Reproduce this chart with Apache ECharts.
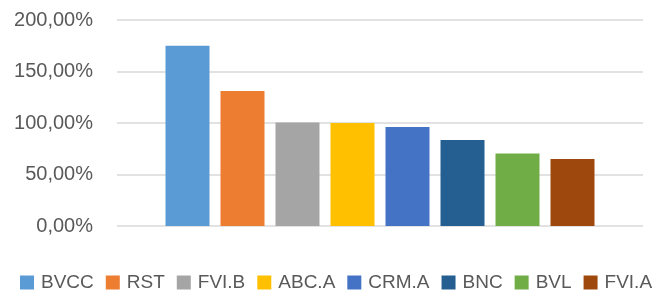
<!DOCTYPE html>
<html>
<head>
<meta charset="utf-8">
<script src="https://cdn.jsdelivr.net/npm/echarts@6/dist/echarts.min.js"></script>
<style>
  html, body { margin: 0; padding: 0; background: #fff; }
  #chart { width: 654px; height: 290px; }
</style>
</head>
<body>
<div id="chart"></div>
<script>
// 各股票名稱與數值 (%)
const tickers = ["BVCC", "RST", "FVI.B", "ABC.A", "CRM.A", "BNC", "BVL", "FVI.A"];
const values = [175, 131, 100.5, 100, 96, 83.5, 70.5, 65];
const yTicks = [0, 50, 100, 150, 200];

const barColors = ["#5B9BD5", "#ED7D31", "#A5A5A5", "#FFC000", "#4472C4", "#255E91", "#70AD47", "#9E480E"];
const textColor = "#595959";
const fontFamily = "'Liberation Sans', Arial, sans-serif";

const chart = echarts.init(document.getElementById("chart"), null, { renderer: "canvas" });

// 每檔一個series，共用同一個category
const series = tickers.map((name, i) => ({
  name,
  type: "bar",
  data: [values[i]],
  barWidth: 44,
  barGap: "25%",
  itemStyle: { color: barColors[i] },
}));

chart.setOption({
  animation: false,
  grid: { left: 117, right: 11, top: 20, bottom: 64 },
  legend: {
    data: tickers,
    left: 20,
    top: 273,
    width: 800, // 原圖legend超出右邊界，不換行
    padding: 0,
    icon: "rect",
    itemWidth: 14,
    itemHeight: 14,
    itemGap: 12,
    textStyle: { color: textColor, fontSize: 19, fontFamily, padding: [0, 0, 0, 2] },
  },
  xAxis: {
    type: "category",
    data: [""],
    axisLine: { show: false },
    axisTick: { show: false },
    axisLabel: { show: false },
  },
  yAxis: {
    type: "value",
    min: yTicks[0],
    max: yTicks[yTicks.length - 1],
    interval: 50,
    axisLine: { show: false },
    axisTick: { show: false },
    axisLabel: {
      color: textColor,
      fontSize: 20,
      fontFamily,
      margin: 24,
      formatter: (v) => v.toFixed(2).replace(".", ",") + "%",
    },
    splitLine: { lineStyle: { color: "#D9D9D9", width: 1.5 } },
  },
  series,
});
</script>
</body>
</html>
